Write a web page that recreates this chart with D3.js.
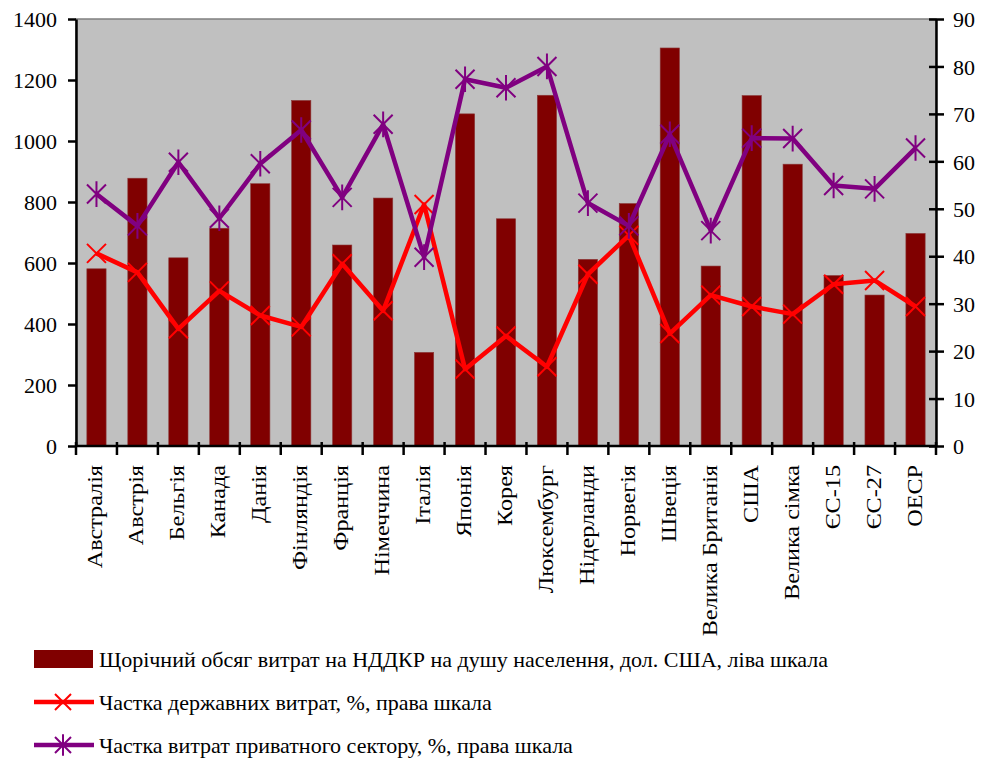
<!DOCTYPE html>
<html>
<head>
<meta charset="utf-8">
<script src="https://cdn.jsdelivr.net/npm/d3@7"></script>
<style>
  html, body { margin: 0; padding: 0; background: #fff; }
  svg { display: block; }
  text { font-family: "Liberation Serif", "Times New Roman", serif; fill: #000; }
</style>
</head>
<body>
<svg id="chart" width="987" height="758"></svg>
<script>
// Countries / groups along the x axis
const categories = [
  "Австралія", "Австрія", "Бельгія", "Канада", "Данія", "Фінляндія", "Франція",
  "Німеччина", "Італія", "Японія", "Корея", "Люксембург", "Нідерланди", "Норвегія",
  "Швеція", "Велика Британія", "США", "Велика сімка", "ЄС-15", "ЄС-27", "ОЕСР"
];

// Annual R&D spending per capita, USD (left scale)
const spendingPerCapita = [
  581, 878, 617, 714, 860, 1133, 659,
  813, 307, 1089, 745, 1150, 612, 795,
  1305, 590, 1149, 924, 559, 495, 697
];

// Government share of spending, % (right scale)
const governmentShare = [
  40.6, 36.6, 24.7, 32.7, 27.5, 25.1, 38.4,
  28.5, 50.9, 16.2, 23.2, 16.7, 36.2, 44.4,
  23.7, 31.8, 29.4, 27.8, 34.1, 34.9, 29.4
];

// Private sector share of spending, % (right scale)
const privateShare = [
  53.1, 46.4, 59.8, 48.0, 59.5, 66.6, 52.4,
  67.8, 39.8, 77.3, 75.5, 80.0, 51.2, 46.4,
  65.7, 45.4, 64.9, 64.8, 54.9, 54.2, 62.8
];

const leftTicks = [0, 200, 400, 600, 800, 1000, 1200, 1400];
const rightTicks = [0, 10, 20, 30, 40, 50, 60, 70, 80, 90];

const legendLabels = [
  "Щорічний обсяг витрат на НДДКР на душу населення, дол. США, ліва шкала",
  "Частка державних витрат, %, права шкала",
  "Частка витрат приватного сектору, %, права шкала"
];

const colors = { bar: "#800000", gov: "#FF0000", priv: "#800080", plot: "#C0C0C0" };
const FONT = '"Liberation Serif", "Times New Roman", serif';
const FONT_SIZE = "22px";

const svg = d3.select("#chart");
const plot = { left: 76, right: 936, top: 19, bottom: 446 };

const x = d3.scaleBand().domain(categories).range([plot.left, plot.right]).paddingInner(0.53).paddingOuter(0.265);
const xCenter = d3.scaleBand().domain(categories).range([plot.left, plot.right]).padding(0);
const yLeft = d3.scaleLinear().domain([0, 1400]).range([plot.bottom, plot.top]);
const yRight = d3.scaleLinear().domain([0, 90]).range([plot.bottom, plot.top]);

// Plot area background
svg.append("rect")
  .attr("x", plot.left).attr("y", plot.top)
  .attr("width", plot.right - plot.left).attr("height", plot.bottom - plot.top)
  .attr("fill", colors.plot).attr("stroke", "#808080").attr("stroke-width", 1.5);

// Bars
svg.append("g").selectAll("rect")
  .data(categories)
  .join("rect")
  .attr("x", d => x(d))
  .attr("y", (d, i) => yLeft(spendingPerCapita[i]))
  .attr("width", x.bandwidth())
  .attr("height", (d, i) => plot.bottom - yLeft(spendingPerCapita[i]))
  .attr("fill", colors.bar)
  .attr("stroke", "#8a3a3a").attr("stroke-width", 0.6);

const cx = d => xCenter(d) + xCenter.bandwidth() / 2;

function xMark(g, size) {
  g.append("path").attr("d", `M${-size},${-size}L${size},${size}M${-size},${size}L${size},${-size}`);
}
function starMark(g, size) {
  g.append("path").attr("d", `M${-size},${-size}L${size},${size}M${-size},${size}L${size},${-size}M0,${-size * 1.35}L0,${size * 1.35}`);
}

function drawSeries(values, color, marker) {
  const line = d3.line().x((d, i) => cx(categories[i])).y(d => yRight(d));
  svg.append("path")
    .datum(values)
    .attr("d", line)
    .attr("fill", "none")
    .attr("stroke", color)
    .attr("stroke-width", 4.5)
    .attr("stroke-linejoin", "round");
  const m = svg.append("g").attr("stroke", color).attr("stroke-width", 2).attr("fill", "none");
  values.forEach((v, i) => {
    const g = m.append("g").attr("transform", `translate(${cx(categories[i])},${yRight(v)})`);
    marker(g, 9.5);
  });
}

drawSeries(governmentShare, colors.gov, xMark);
drawSeries(privateShare, colors.priv, starMark);

// Axes
const axisStyle = g => {
  g.attr("font-family", FONT).attr("font-size", FONT_SIZE);
  g.select(".domain").attr("stroke", "#000").attr("stroke-width", 2.5);
  g.selectAll(".tick line").attr("stroke", "#000").attr("stroke-width", 2.5);
  g.selectAll("text").style("font-family", FONT).style("font-size", FONT_SIZE).attr("fill", "#000");
};

const gLeft = svg.append("g").attr("transform", `translate(${plot.left},0)`)
  .call(d3.axisLeft(yLeft).tickValues(leftTicks).tickSize(8).tickSizeOuter(0).tickPadding(11).tickFormat(d3.format("d")))
  .call(axisStyle);
gLeft.selectAll(".tick line").attr("x1", 0).attr("x2", -8);
gLeft.selectAll(".tick text").attr("dy", "0.35em");

const gRight = svg.append("g").attr("transform", `translate(${plot.right},0)`)
  .call(d3.axisRight(yRight).tickValues(rightTicks).tickSize(8).tickSizeOuter(0).tickPadding(9).tickFormat(d3.format("d")))
  .call(axisStyle);
gRight.selectAll(".tick line").attr("x1", -7).attr("x2", 8);
gRight.selectAll(".tick text").attr("dy", "0.35em");

// Category axis with ticks on band boundaries
const bottomAxis = svg.append("g").attr("transform", `translate(0,${plot.bottom})`);
bottomAxis.append("line")
  .attr("x1", plot.left).attr("x2", plot.right)
  .attr("stroke", "#000").attr("stroke-width", 2.5);
const boundaries = categories.map(d => xCenter(d)).concat([plot.right]);
bottomAxis.selectAll("line.tick").data(boundaries).join("line")
  .attr("class", "tick")
  .attr("x1", d => d).attr("x2", d => d)
  .attr("y1", -4).attr("y2", 9)
  .attr("stroke", "#000").attr("stroke-width", 2.5);
// Vertical labels, slightly stretched along the reading direction
bottomAxis.selectAll("text").data(categories).join("text")
  .attr("transform", d => `translate(${cx(d) + 6},${19}) rotate(-90) scale(1.1,1)`)
  .attr("text-anchor", "end")
  .style("font-family", FONT)
  .style("font-size", FONT_SIZE)
  .text(d => d);

// Legend
const legend = svg.append("g");
const legendY = [659, 702, 745];
legend.append("rect").attr("x", 34).attr("y", legendY[0] - 9).attr("width", 59).attr("height", 18).attr("fill", colors.bar);
[[colors.gov, xMark], [colors.priv, starMark]].forEach(([c, mk], k) => {
  const yy = legendY[k + 1];
  legend.append("line").attr("x1", 34).attr("x2", 94).attr("y1", yy).attr("y2", yy)
    .attr("stroke", c).attr("stroke-width", 4.5);
  const g = legend.append("g").attr("transform", `translate(63,${yy})`).attr("stroke", c).attr("stroke-width", 2).attr("fill", "none");
  mk(g, 8);
});
legend.selectAll("text").data(legendLabels).join("text")
  .attr("x", 99)
  .attr("y", (d, i) => legendY[i])
  .attr("dy", "0.35em")
  .style("font-family", FONT)
  .style("font-size", FONT_SIZE)
  .text(d => d);
</script>
</body>
</html>
